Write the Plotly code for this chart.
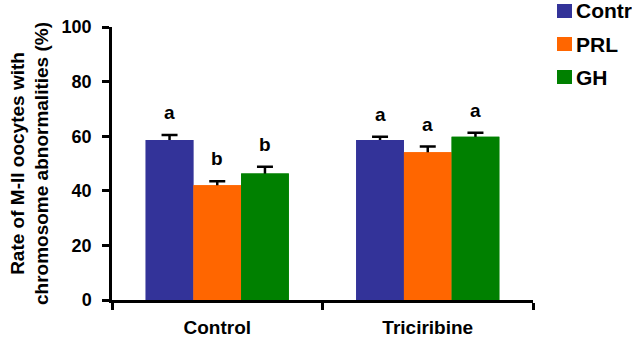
import plotly.graph_objects as go

categories = ["Control", "Triciribine"]
series_names = ["Contr", "PRL", "GH"]
contr_vals = [58.6, 58.6]
prl_vals = [42.0, 54.1]
gh_vals = [46.3, 59.8]
contr_err = [1.8, 1.2]
prl_err = [1.5, 2.1]
gh_err = [2.5, 1.5]
contr_letters = ["a", "a"]
prl_letters = ["b", "a"]
gh_letters = ["b", "a"]
y_ticks = [0, 20, 40, 60, 80, 100]

colors = ["#333399", "#FF6600", "#008000"]
FONT = "Liberation Sans, Arial, sans-serif"
BARGAP = 0.32

vals = [contr_vals, prl_vals, gh_vals]
errs = [contr_err, prl_err, gh_err]
letters = [contr_letters, prl_letters, gh_letters]

PL, PR, PT, PB = 112, 533, 27, 300  # plot area in page pixels
W, H = 632, 340

fig = go.Figure()
# bars with error bars (symmetric), then identical bars drawn on top to hide lower half
for i, name in enumerate(series_names):
    fig.add_trace(go.Bar(
        x=categories, y=vals[i], name=name, offsetgroup=name, showlegend=False,
        marker=dict(color=colors[i], line=dict(width=0)),
        error_y=dict(type="data", array=errs[i], color="black", thickness=2.5, width=8),
    ))
for i, name in enumerate(series_names):
    fig.add_trace(go.Bar(
        x=categories, y=vals[i], name=name, offsetgroup=name, showlegend=False,
        marker=dict(color=colors[i], line=dict(width=0)),
    ))

bw = (1 - BARGAP) / 3
for i in range(3):
    for g in range(len(categories)):
        fig.add_annotation(
            x=g + (i - 1) * bw, y=vals[i][g] + errs[i][g],
            text=letters[i][g], showarrow=False, yanchor="bottom",
            yshift=10, font=dict(family=FONT, size=19, color="black", weight="bold"),
        )

# legend (manual, to match the compact square + label layout)
pw, ph = PR - PL, PB - PT
leg_y = [11, 44, 77]
for i, name in enumerate(series_names):
    fig.add_shape(type="rect", xref="paper", yref="paper",
                  x0=(557 - PL) / pw, x1=(572 - PL) / pw,
                  y0=(PB - leg_y[i] - 7) / ph, y1=(PB - leg_y[i] + 7) / ph,
                  fillcolor=colors[i], line=dict(width=0))
    fig.add_annotation(xref="paper", yref="paper", x=(574 - PL) / pw,
                       y=(PB - leg_y[i]) / ph, xanchor="left", yanchor="middle",
                       text=name, showarrow=False,
                       font=dict(family=FONT, size=21, color="black", weight="bold"))

fig.update_layout(
    width=W, height=H,
    margin=dict(l=PL, r=W - PR, t=PT, b=H - PB, autoexpand=False),
    paper_bgcolor="white", plot_bgcolor="white",
    barmode="group", bargap=BARGAP, bargroupgap=0,
    font=dict(family=FONT, color="black", weight="bold"),
    showlegend=False,
)
fig.update_xaxes(
    type="category", range=[-0.5, 1.5],
    showline=True, linecolor="black", linewidth=2.5,
    ticks="outside", tickson="boundaries", ticklen=7, tickwidth=2.5, tickcolor="black",
    tickfont=dict(family=FONT, size=19, color="black", weight="bold"),
    ticklabelstandoff=8,
    showgrid=False, zeroline=False,
)
fig.update_yaxes(
    range=[0, 100], tickvals=y_ticks,
    showline=True, linecolor="black", linewidth=2.5,
    ticks="outside", ticklen=7, tickwidth=2.5, tickcolor="black",
    tickfont=dict(family=FONT, size=18, color="black", weight="bold"),
    ticklabelstandoff=7,
    showgrid=False, zeroline=False,
    title=dict(text="Rate of M-II oocytes with<br>chromosome abnormalities (%)",
               font=dict(family=FONT, size=19, color="black", weight="bold"),
               standoff=8),
)

fig.write_html("out.html", config={"displayModeBar": False},
               post_script="document.body.style.margin='0';document.body.style.padding='0';")
